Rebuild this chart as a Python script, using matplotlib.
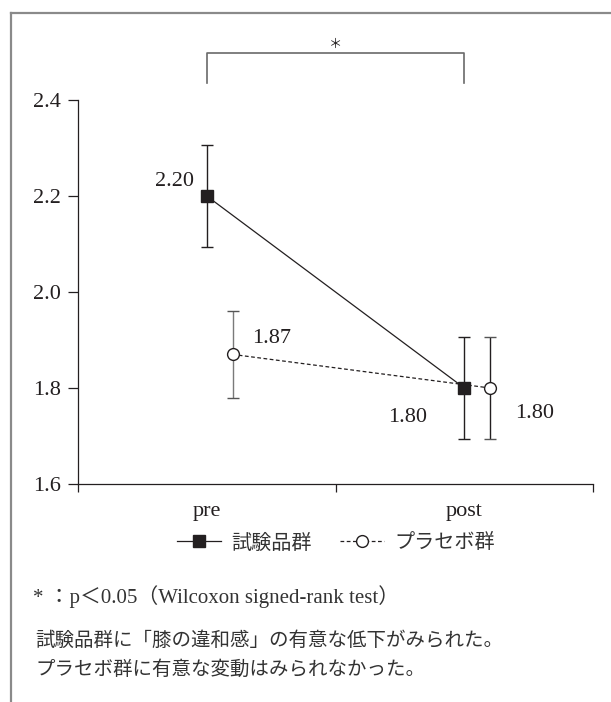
import matplotlib
matplotlib.use("Agg")
import matplotlib.pyplot as plt
from matplotlib.lines import Line2D

# ---- data ----
categories = ["pre", "post"]
test_means = [2.20, 1.80]
test_err = [0.107, 0.107]
placebo_means = [1.87, 1.80]
placebo_err = [0.091, 0.107]
series_names = ["試験品群", "プラセボ群"]
y_ticks = [1.6, 1.8, 2.0, 2.2, 2.4]
footnote = "* ：p＜0.05（Wilcoxon signed-rank test）"
comment_lines = ["試験品群に「膝の違和感」の有意な低下がみられた。",
                 "プラセボ群に有意な変動はみられなかった。"]

INK = "#231f20"
SERIF = ["Liberation Serif", "Noto Sans CJK JP"]
JP = ["Noto Sans CJK JP", "DejaVu Sans"]

fig = plt.figure(figsize=(6.11, 7.02), dpi=100)
W, H = 611, 702

def fx(px):
    return px / W

def fy(py):
    return 1 - py / H

# axes box: x 78..593 px, y 100..484 px
ax = fig.add_axes([fx(78), fy(484), fx(593) - fx(78), (484 - 100) / H])

x_test = [0.5, 1.5]
offset = 0.1
x_plac = [x + offset for x in x_test]

cont_t = ax.errorbar(x_test, test_means, yerr=test_err, color=INK, lw=0.9,
                     marker="s", ms=9, mfc=INK, mec=INK, ecolor=INK,
                     elinewidth=1.0, capsize=4, capthick=1.0, zorder=3)
cont_p = ax.errorbar(x_plac, placebo_means, yerr=placebo_err, color=INK, lw=0.9,
                     ls=(0, (3, 2)), marker="o", ms=8.5, mfc="white", mec=INK,
                     mew=1.0, ecolor="#555555", elinewidth=1.0, capsize=4,
                     capthick=1.0, zorder=3)
cont_p[2][0].set_color(["#7a7a7a", INK])

# value labels
lbl_kw = dict(fontsize=16, family=SERIF, color=INK)
ax.annotate(f"{test_means[0]:.2f}", (x_test[0], test_means[0]), xytext=(-13, 14),
            textcoords="offset pixels", ha="right", va="center", **lbl_kw)
ax.annotate(f"{placebo_means[0]:.2f}", (x_plac[0], placebo_means[0]), xytext=(20, 16),
            textcoords="offset pixels", ha="left", va="center", **lbl_kw)
ax.annotate(f"{test_means[1]:.2f}", (x_test[1], test_means[1]), xytext=(-37, -29),
            textcoords="offset pixels", ha="right", va="center", **lbl_kw)
ax.annotate(f"{placebo_means[1]:.2f}", (x_plac[1], placebo_means[1]), xytext=(25, -25),
            textcoords="offset pixels", ha="left", va="center", **lbl_kw)

# axes styling
ax.set_xlim(0, 2)
ax.set_ylim(1.6, 2.4)
ax.set_yticks(y_ticks)
ax.set_yticklabels([f"{v:.1f}" for v in y_ticks], fontsize=16, family=SERIF, color=INK)
ax.set_xticks([0, 1, 2])
ax.set_xticklabels([])
ax.set_xticks(x_test, categories, minor=True)
for lab in ax.get_xticklabels(minor=True):
    lab.set_fontsize(16)
    lab.set_family(SERIF)
    lab.set_color(INK)
ax.tick_params(axis="x", which="minor", length=0, pad=13)
ax.tick_params(axis="x", which="major", direction="out", length=6, width=0.9, color=INK)
ax.tick_params(axis="y", direction="out", length=7, width=0.9, color=INK, pad=5)
for s in ["top", "right"]:
    ax.spines[s].set_visible(False)
for s in ["left", "bottom"]:
    ax.spines[s].set_color(INK)
    ax.spines[s].set_linewidth(0.9)

# significance bracket
br_top, br_bot = 2.4975, 2.435
ax.plot([x_test[0], x_test[0], x_test[1], x_test[1]], [br_bot, br_top, br_top, br_bot],
        color="#6a6a6a", lw=1.2, clip_on=False)
ax.text((x_test[0] + x_test[1]) / 2, br_top + 0.004, "＊", ha="center", va="bottom",
        fontsize=9.5, family=JP, color=INK)

# outer frame (top and left)
fig.add_artist(Line2D([fx(11), 1.0], [fy(13), fy(13)], color="#8a8a8a", lw=1.6))
fig.add_artist(Line2D([fx(11), fx(11)], [fy(13), 0.0], color="#8a8a8a", lw=1.6))

# legend
leg = fig.legend([cont_t[0], cont_p[0]], series_names, loc="center",
                 bbox_to_anchor=(fx(336), fy(543)), ncol=2, frameon=False,
                 handlelength=2.2, handletextpad=0.5, columnspacing=1.4,
                 prop={"family": JP, "size": 14.5}, numpoints=1)
for t in leg.get_texts():
    t.set_color("#333333")

# footnote and comments
fig.text(fx(33), fy(597), footnote, ha="left", va="center", fontsize=15,
         family=SERIF, color="#333333")
fig.text(fx(35), fy(640), comment_lines[0], ha="left", va="center", fontsize=14,
         family=JP, color="#333333")
fig.text(fx(35), fy(669), comment_lines[1], ha="left", va="center", fontsize=14,
         family=JP, color="#333333")

fig.savefig("out.png", dpi=100, facecolor="white")
